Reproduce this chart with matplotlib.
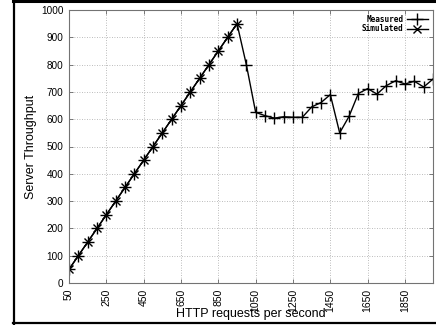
import numpy as np
import matplotlib
matplotlib.use("Agg")
import matplotlib.pyplot as plt
from matplotlib.lines import Line2D

# request rates (HTTP req/s)
sim_x = list(range(50, 1000, 50))
sim_y = list(range(50, 1000, 50))

meas_x = list(range(50, 2050, 50))
meas_y = list(range(50, 1000, 50)) + [
    800, 625, 613, 604, 609, 607, 607, 645, 661, 690,
    550, 610, 694, 712, 692, 723, 741, 729, 739, 718, 747]

xticks = list(range(50, 1900, 200))
yticks = list(range(0, 1100, 100))

plt.rcParams.update({"font.family": "Liberation Sans"})

fig = plt.figure(figsize=(4.36, 3.25), dpi=100)
ax = fig.add_axes([69 / 436, 1 - 283 / 325, (433 - 69) / 436, (283 - 10) / 325])

ax.plot(meas_x, meas_y, "-", color="black", lw=1.0, marker="+", ms=8, mew=1.0,
        label="Measured")
ax.plot(sim_x, sim_y, "-", color="black", lw=1.0, marker="x", ms=6, mew=1.0,
        label="Simulated")

ax.set_xlim(50, 2000)
ax.set_ylim(0, 1000)
ax.set_xticks(xticks)
ax.set_yticks(yticks)
ax.set_xticklabels([str(v) for v in xticks], rotation=90, fontsize=7.5)
ax.set_yticklabels([str(v) for v in yticks], fontsize=7.2)
ax.tick_params(direction="in", top=True, right=True, length=3, width=0.6,
               color="0.4", pad=4)
ax.grid(True, ls=(0, (1, 2)), color="0.65", lw=0.6)
for s in ax.spines.values():
    s.set_color("0.45")
    s.set_linewidth(0.8)

ax.set_ylabel("Server Throughput", fontsize=9, labelpad=3)
ax.set_xlabel("HTTP requests per second", fontsize=9, labelpad=-2.5)

leg = ax.legend(loc="upper right", markerfirst=False, frameon=False,
                prop={"family": "DejaVu Sans Mono", "weight": "bold", "size": 5.6},
                handlelength=2.8, handletextpad=0.4, labelspacing=0.1,
                borderaxespad=0.2)

# black frame round the picture (top, left, bottom)
fig.add_artist(Line2D([13 / 436, 1], [1 - 1 / 325, 1 - 1 / 325], color="black", lw=2.2,
                      transform=fig.transFigure))
fig.add_artist(Line2D([14 / 436, 14 / 436], [0, 1], color="black", lw=1.6,
                      transform=fig.transFigure))
fig.add_artist(Line2D([13 / 436, 1], [2 / 325, 2 / 325], color="black", lw=1.6,
                      transform=fig.transFigure))

fig.savefig("out.png", dpi=100)
